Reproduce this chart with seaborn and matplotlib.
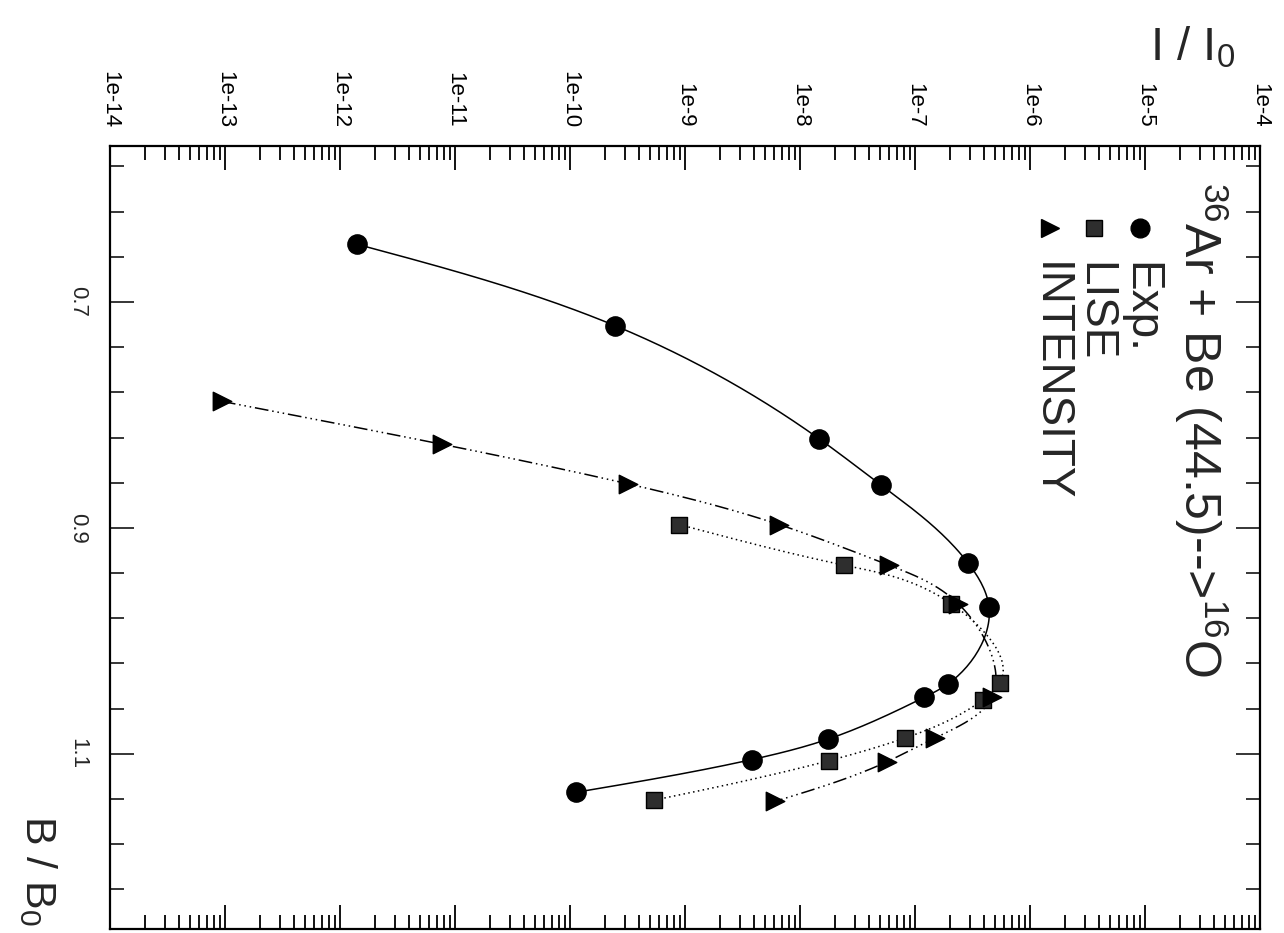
import numpy as np
import pandas as pd
import matplotlib
matplotlib.use("Agg")
import matplotlib.pyplot as plt
import seaborn as sns
from matplotlib.ticker import LogLocator, FixedLocator, FuncFormatter, NullFormatter

# ---------------- data ----------------
exp_b = [0.649, 0.721, 0.821, 0.862, 0.931, 0.970, 1.038, 1.050, 1.087, 1.105, 1.134]
exp_i = [1.41e-12, 2.46e-10, 1.46e-8, 5.06e-8, 2.89e-7, 4.40e-7, 1.94e-7, 1.20e-7, 1.75e-8, 3.83e-9, 1.13e-10]

lise_b = [0.897, 0.933, 0.967, 1.037, 1.052, 1.086, 1.106, 1.141]
lise_i = [8.87e-10, 2.42e-8, 2.06e-7, 5.48e-7, 3.90e-7, 8.18e-8, 1.79e-8, 5.37e-10]

int_b = [0.788, 0.826, 0.861, 0.897, 0.933, 0.967, 1.050, 1.086, 1.107, 1.142]
int_i = [9.4e-14, 7.71e-12, 3.19e-10, 6.56e-9, 5.94e-8, 2.37e-7, 4.68e-7, 1.49e-7, 5.71e-8, 6.07e-9]

x_major = [1e-14, 1e-13, 1e-12, 1e-11, 1e-10, 1e-9, 1e-8, 1e-7, 1e-6, 1e-5, 1e-4]
y_major = [0.7, 0.9, 1.1]
y_labels = ["0.7", "0.9", "1.1"]
legend_labels = ["Exp.", "LISE", "INTENSITY"]
title_text = r"$^{36}$Ar + Be (44.5)-->$^{16}$O"

# ---------------- style ----------------
sns.set_theme(style="ticks")
plt.rcParams["font.family"] = ["Liberation Sans", "DejaVu Sans"]
plt.rcParams["mathtext.default"] = "regular"
plt.rcParams["axes.linewidth"] = 1.5

W, H = 1284, 933
fig = plt.figure(figsize=(W / 100, H / 100), dpi=100)
ax = fig.add_axes([110 / W, 4 / H, 1150 / W, 783 / H])


def smooth(bs, vals, n=400):
    """Parametric natural cubic spline through the points (log scale on I)."""
    u = np.log10(np.asarray(vals)) * 115.0
    v = np.asarray(bs) * 1131.0
    d = np.hypot(np.diff(u), np.diff(v))
    t = np.concatenate([[0], np.cumsum(d)])

    def spl(y):
        m = len(t)
        h = np.diff(t)
        A = np.zeros((m, m))
        r = np.zeros(m)
        A[0, 0] = A[-1, -1] = 1
        for i in range(1, m - 1):
            A[i, i - 1] = h[i - 1]
            A[i, i] = 2 * (h[i - 1] + h[i])
            A[i, i + 1] = h[i]
            r[i] = 6 * ((y[i + 1] - y[i]) / h[i] - (y[i] - y[i - 1]) / h[i - 1])
        M = np.linalg.solve(A, r)
        tt = np.linspace(t[0], t[-1], n)
        k = np.clip(np.searchsorted(t, tt) - 1, 0, m - 2)
        a = t[k + 1] - tt
        b = tt - t[k]
        hk = h[k]
        return (M[k] * a ** 3 / (6 * hk) + M[k + 1] * b ** 3 / (6 * hk)
                + (y[k] / hk - M[k] * hk / 6) * a + (y[k + 1] / hk - M[k + 1] * hk / 6) * b)

    return 10 ** (spl(u) / 115.0), spl(v) / 1131.0


lw = 1.1
# Exp.
cx, cy = smooth(exp_b, exp_i)
sns.lineplot(x=cx, y=cy, sort=False, estimator=None, color="black", lw=lw, ax=ax)
# LISE
lx, ly = smooth(lise_b, lise_i)
sns.lineplot(x=lx, y=ly, sort=False, estimator=None, color="black", lw=lw, ax=ax,
             linestyle=(0, (1, 2.2)))
# INTENSITY
ix, iy = smooth(int_b, int_i)
sns.lineplot(x=ix, y=iy, sort=False, estimator=None, color="black", lw=lw, ax=ax,
             linestyle=(0, (9, 2.5, 1, 2.5, 1, 2.5, 1, 2.5)))

sns.scatterplot(x=exp_i, y=exp_b, marker="o", s=190, color="black", edgecolor="black", ax=ax, zorder=5)
sns.scatterplot(x=lise_i, y=lise_b, marker="s", s=125, color="#2e2e2e", edgecolor="black",
                linewidth=1, ax=ax, zorder=5)
sns.scatterplot(x=int_i, y=int_b, marker=">", s=175, color="black", edgecolor="black", ax=ax, zorder=5)

# ---------------- axes ----------------
ax.set_xscale("log")
ax.set_xlim(1e-14, 1e-4)
ax.set_ylim(1.255, 0.562)
ax.set_xlabel("")
ax.set_ylabel("")

ax.xaxis.set_major_locator(FixedLocator(x_major))
ax.xaxis.set_minor_locator(LogLocator(base=10, subs=np.arange(2, 10), numticks=200))
ax.xaxis.set_major_formatter(FuncFormatter(lambda v, p: "1e%d" % int(round(np.log10(v)))))
ax.xaxis.set_minor_formatter(NullFormatter())
ax.tick_params(axis="x", which="both", top=True, bottom=True, labeltop=True, labelbottom=False,
               direction="in", width=1.3, colors="black")
ax.tick_params(axis="x", which="major", length=17, pad=13, labelsize=16, labelrotation=270)
ax.tick_params(axis="x", which="minor", length=10)

ax.set_yticks(y_major)
ax.set_yticklabels(y_labels, rotation=270, va="center")
ax.yaxis.set_minor_locator(FixedLocator(np.round(np.arange(0.58, 1.23, 0.04), 2)))
ax.tick_params(axis="y", which="both", left=True, right=True, direction="in", width=1.3)
ax.tick_params(axis="y", which="major", length=17, pad=16, labelsize=16)
ax.tick_params(axis="y", which="minor", length=10)
for s in ax.spines.values():
    s.set_linewidth(1.6)
    s.set_color("black")

# axis titles
fig.text(1150 / W, 1 - 60 / H, r"I / I$_0$", fontsize=34, ha="left", va="baseline")
fig.text(38 / W, 1 - 815 / H, r"B / B$_0$", fontsize=31, rotation=270, ha="center", va="top")

# ---------------- legend (rotated) ----------------
fig.text(1201 / W, 1 - 182 / H, title_text, fontsize=36, rotation=270, ha="center", va="top")
leg_x = [1140, 1094, 1050]
leg_m = [("o", 13.5, "black"), ("s", 11, "#2e2e2e"), (">", 13, "black")]
for xpix, (mk, ms, fc), lab in zip(leg_x, leg_m, legend_labels):
    ax.plot([xpix / W], [1 - 228 / H], marker=mk, ms=ms, mfc=fc, mec="black", ls="none",
            transform=fig.transFigure, clip_on=False)
    fig.text(xpix / W, 1 - 262 / H, lab, fontsize=33, rotation=270, ha="center", va="top")

fig.savefig("out.png", dpi=100, facecolor="white")
